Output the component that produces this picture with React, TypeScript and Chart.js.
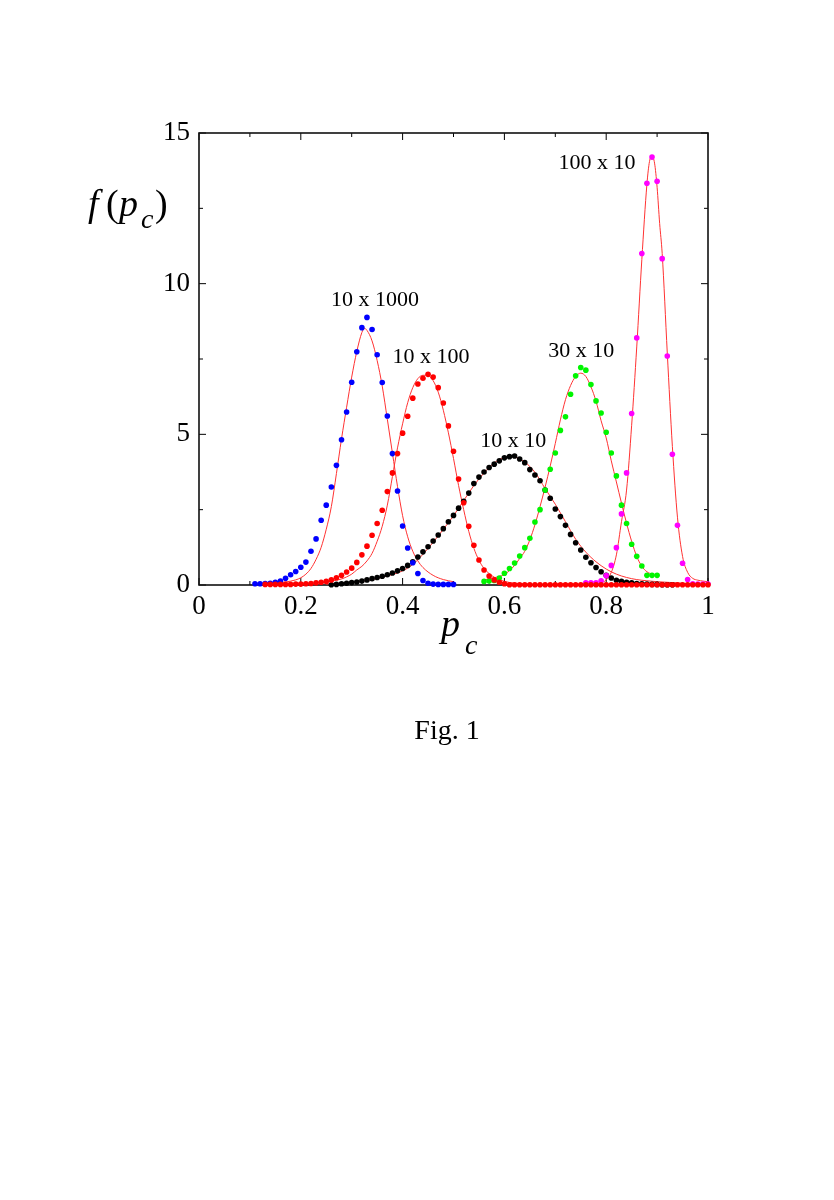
import React, { useEffect, useRef } from "react";
import { Chart, registerables } from "chart.js";

Chart.register(...registerables);

// ---------- data (x grid step 0.01) ----------
const STEP = 0.01;

const blueStart = 0.11; // 10 x 1000
const blueValues = [
  0.04, 0.04, 0.05, 0.06, 0.09, 0.13, 0.22, 0.34, 0.45, 0.59,
  0.76, 1.12, 1.53, 2.15, 2.65, 3.25, 3.97, 4.82, 5.74, 6.73,
  7.74, 8.54, 8.88, 8.48, 7.64, 6.72, 5.61, 4.36, 3.12, 1.96,
  1.23, 0.74, 0.38, 0.15, 0.06, 0.03, 0.02, 0.02, 0.02, 0.02,
];

const redStart = 0.13; // 10 x 100
const redValues = [
  0.02, 0.02, 0.02, 0.02, 0.02, 0.02, 0.03, 0.03, 0.04, 0.05,
  0.07, 0.09, 0.12, 0.17, 0.24, 0.32, 0.43, 0.56, 0.75, 1.0,
  1.29, 1.65, 2.04, 2.48, 3.1, 3.72, 4.36, 5.04, 5.6, 6.2,
  6.67, 6.86, 6.99, 6.9, 6.55, 6.04, 5.28, 4.44, 3.52, 2.73,
  1.95, 1.32, 0.83, 0.5, 0.3, 0.17, 0.09, 0.04, 0.01, 0.01,
  0.01, 0.01, 0.01, 0.01, 0.01, 0.01, 0.01, 0.01, 0.01, 0.01,
  0.01, 0.01, 0.01, 0.01, 0.01, 0.01, 0.01, 0.01, 0.01, 0.01,
  0.01, 0.01, 0.01, 0.01, 0.01, 0.01, 0.01, 0.01, 0.01, 0.01,
  0.01, 0.01, 0.01, 0.01, 0.01, 0.01, 0.01, 0.01,
];

const blackStart = 0.26; // 10 x 10
const blackValues = [
  0.01, 0.02, 0.04, 0.06, 0.08, 0.1, 0.13, 0.17, 0.21, 0.25,
  0.29, 0.34, 0.4, 0.47, 0.55, 0.65, 0.77, 0.93, 1.1, 1.27,
  1.46, 1.66, 1.87, 2.1, 2.31, 2.55, 2.78, 3.05, 3.37, 3.58,
  3.75, 3.9, 4.01, 4.12, 4.22, 4.26, 4.28, 4.18, 4.06, 3.83,
  3.65, 3.46, 3.15, 2.88, 2.52, 2.27, 1.98, 1.68, 1.4, 1.16,
  0.92, 0.74, 0.58, 0.44, 0.32, 0.23, 0.16, 0.12, 0.09, 0.07,
  0.05, 0.04, 0.03, 0.02, 0.02, 0.01, 0.01, 0.01,
];

const greenStart = 0.56; // 30 x 10
const greenValues = [
  0.12, 0.13, 0.15, 0.23, 0.39, 0.55, 0.73, 0.96, 1.24, 1.55,
  2.09, 2.5, 3.15, 3.84, 4.38, 5.13, 5.58, 6.33, 6.94, 7.22,
  7.13, 6.65, 6.11, 5.71, 5.07, 4.38, 3.62, 2.65, 2.04, 1.35,
  0.95, 0.63, 0.32, 0.32, 0.32,
];

const magentaStart = 0.76; // 100 x 10
const magentaValues = [
  0.07, 0.07, 0.07, 0.14, 0.31, 0.65, 1.24, 2.36, 3.72, 5.69,
  8.2, 11.0, 13.33, 14.2, 13.4, 10.83, 7.6, 4.34, 1.98, 0.72,
  0.18, 0.04, 0.03, 0.03, 0.03,
];

// ---------- fitted curves ----------
const fit1X = [0.11, 0.14, 0.17, 0.19, 0.2, 0.21, 0.22, 0.23, 0.24, 0.25, 0.26, 0.27, 0.28, 0.29, 0.3, 0.31, 0.32, 0.325, 0.33, 0.34, 0.35, 0.36, 0.37, 0.38, 0.39, 0.4, 0.41, 0.42, 0.43, 0.44, 0.46, 0.48, 0.5];
const fit1Y = [0.05, 0.06, 0.1, 0.17, 0.24, 0.36, 0.55, 0.85, 1.25, 1.85, 2.6, 3.7, 4.85, 5.9, 6.9, 7.75, 8.38, 8.52, 8.45, 8.1, 7.45, 6.6, 5.5, 4.38, 3.27, 2.3, 1.6, 1.12, 0.8, 0.58, 0.32, 0.18, 0.11];

const fit2X = [0.15, 0.2, 0.23, 0.26, 0.28, 0.29, 0.3, 0.31, 0.32, 0.33, 0.34, 0.35, 0.36, 0.37, 0.38, 0.39, 0.4, 0.41, 0.42, 0.43, 0.44, 0.45, 0.46, 0.47, 0.48, 0.49, 0.5, 0.51, 0.52, 0.53, 0.54, 0.55, 0.56, 0.57, 0.58, 0.59, 0.6, 0.62, 0.65];
const fit2Y = [0.02, 0.04, 0.07, 0.13, 0.2, 0.27, 0.36, 0.5, 0.62, 0.8, 1.05, 1.45, 1.95, 2.65, 3.6, 4.55, 5.35, 6.05, 6.55, 6.85, 6.96, 6.95, 6.78, 6.4, 5.8, 5.05, 4.2, 3.3, 2.5, 1.78, 1.22, 0.82, 0.55, 0.38, 0.26, 0.18, 0.12, 0.06, 0.03];

const fit3X = [0.25, 0.28, 0.31, 0.34, 0.37, 0.4, 0.42, 0.44, 0.46, 0.48, 0.5, 0.52, 0.54, 0.56, 0.58, 0.6, 0.61, 0.62, 0.64, 0.66, 0.68, 0.7, 0.72, 0.74, 0.76, 0.78, 0.8, 0.82, 0.84, 0.86, 0.88, 0.9, 0.93, 0.96];
const fit3Y = [0.03, 0.06, 0.1, 0.18, 0.3, 0.47, 0.68, 1.02, 1.42, 1.85, 2.3, 2.8, 3.3, 3.72, 4.05, 4.24, 4.27, 4.25, 4.08, 3.74, 3.2, 2.68, 2.1, 1.52, 1.09, 0.77, 0.53, 0.36, 0.25, 0.18, 0.14, 0.11, 0.08, 0.05];

const fit4X = [0.56, 0.58, 0.6, 0.61, 0.62, 0.63, 0.64, 0.65, 0.66, 0.67, 0.68, 0.69, 0.7, 0.71, 0.72, 0.73, 0.74, 0.75, 0.76, 0.77, 0.78, 0.79, 0.8, 0.81, 0.82, 0.83, 0.84, 0.85, 0.86, 0.87, 0.88, 0.89, 0.9];
const fit4Y = [0.17, 0.24, 0.35, 0.48, 0.65, 0.88, 1.12, 1.5, 2.0, 2.6, 3.25, 3.95, 4.7, 5.48, 6.15, 6.62, 6.92, 7.03, 6.92, 6.58, 6.1, 5.45, 4.88, 4.12, 3.42, 2.72, 2.05, 1.45, 0.95, 0.62, 0.44, 0.36, 0.31];

const fit5X = [0.76, 0.78, 0.79, 0.8, 0.81, 0.82, 0.83, 0.84, 0.85, 0.86, 0.87, 0.88, 0.885, 0.89, 0.895, 0.9, 0.905, 0.91, 0.92, 0.93, 0.94, 0.95, 0.96, 0.97, 0.98, 0.99, 1.0];
const fit5Y = [0.02, 0.04, 0.07, 0.17, 0.42, 1.0, 2.1, 3.15, 5.3, 7.9, 10.8, 13.3, 14.05, 14.22, 14.0, 13.2, 12.0, 11.0, 7.7, 4.6, 2.25, 0.95, 0.42, 0.22, 0.16, 0.13, 0.11];

const X_TICKS = [0, 0.2, 0.4, 0.6, 0.8, 1];
const Y_TICKS = [0, 5, 10, 15];

const LABELS = ["10 x 1000", "10 x 100", "10 x 10", "30 x 10", "100 x 10"];
const LABEL_X = [0.346, 0.456, 0.6175, 0.751, 0.782];
const LABEL_Y = [9.26, 7.36, 4.59, 7.58, 13.82];

// ---------- helpers ----------
function onGrid(start: number, values: number[]) {
  return values.map((v, i) => ({ x: Math.round((start + i * STEP) * 1000) / 1000, y: v }));
}
function zip(xs: number[], ys: number[]) {
  return xs.map((x, i) => ({ x, y: ys[i] }));
}

const SERIF = '"Liberation Serif", "Times New Roman", serif';

const decorPlugin = {
  id: "decor",
  beforeDatasetsDraw(chart: any) {
    const { ctx, chartArea: a, scales } = chart;
    const xs = scales.x;
    const ys = scales.y;
    ctx.save();
    ctx.strokeStyle = "#000";
    ctx.lineWidth = 1;
    ctx.beginPath();
    for (let i = 0; i <= 10; i++) {
      const px = xs.getPixelForValue(i / 10);
      const len = i % 2 === 0 ? 7 : 4;
      ctx.moveTo(px, a.bottom);
      ctx.lineTo(px, a.bottom - len);
      ctx.moveTo(px, a.top);
      ctx.lineTo(px, a.top + len);
    }
    for (let i = 0; i <= 6; i++) {
      const py = ys.getPixelForValue(i * 2.5);
      const len = i % 2 === 0 ? 7 : 4;
      ctx.moveTo(a.left, py);
      ctx.lineTo(a.left + len, py);
      ctx.moveTo(a.right, py);
      ctx.lineTo(a.right - len, py);
    }
    ctx.stroke();
    ctx.lineWidth = 1.6;
    ctx.strokeStyle = "#111";
    ctx.strokeRect(a.left, a.top, a.right - a.left, a.bottom - a.top);
    ctx.restore();
  },
  afterDraw(chart: any) {
    const { ctx, scales } = chart;
    const xs = scales.x;
    const ys = scales.y;
    ctx.save();
    ctx.fillStyle = "#000";
    ctx.textBaseline = "alphabetic";
    // curve labels
    ctx.font = `22px ${SERIF}`;
    ctx.textAlign = "center";
    LABELS.forEach((t, i) => {
      ctx.fillText(t, xs.getPixelForValue(LABEL_X[i]), ys.getPixelForValue(LABEL_Y[i]));
    });
    // y title f(p_c)
    ctx.textAlign = "left";
    ctx.font = `italic 38px ${SERIF}`;
    ctx.fillText("f", 88, 216);
    ctx.font = `38px ${SERIF}`;
    ctx.fillText("(", 106, 216);
    ctx.font = `italic 38px ${SERIF}`;
    ctx.fillText("p", 119, 216);
    ctx.font = `italic 28px ${SERIF}`;
    ctx.fillText("c", 141, 228);
    ctx.font = `38px ${SERIF}`;
    ctx.fillText(")", 155, 216);
    // x title p_c
    ctx.font = `italic 38px ${SERIF}`;
    ctx.fillText("p", 441, 636);
    ctx.font = `italic 28px ${SERIF}`;
    ctx.fillText("c", 465, 654);
    ctx.restore();
  },
};

export default function App() {
  const canvasRef = useRef<HTMLCanvasElement | null>(null);

  useEffect(() => {
    const canvas = canvasRef.current;
    if (!canvas) return;
    const dot = (label: string, color: string, data: any[]) => ({
      type: "scatter" as const,
      label,
      data,
      showLine: false,
      pointRadius: 2.8,
      pointHoverRadius: 2.8,
      pointBorderWidth: 0,
      pointBackgroundColor: color,
      pointBorderColor: color,
      clip: 6,
    });
    const fit = (label: string, data: any[]) => ({
      type: "scatter" as const,
      label,
      data,
      showLine: true,
      pointRadius: 0,
      borderColor: "rgb(255,50,50)",
      borderWidth: 1,
      cubicInterpolationMode: "monotone" as const,
      fill: false,
      clip: 6,
    });

    const chart = new Chart(canvas, {
      type: "scatter",
      data: {
        datasets: [
          dot("10 x 100", "rgb(255,0,0)", onGrid(redStart, redValues)),
          dot("100 x 10", "rgb(255,0,255)", onGrid(magentaStart, magentaValues)),
          dot("10 x 1000", "rgb(0,0,255)", onGrid(blueStart, blueValues)),
          dot("30 x 10", "rgb(0,245,0)", onGrid(greenStart, greenValues)),
          dot("10 x 10", "rgb(0,0,0)", onGrid(blackStart, blackValues)),
          fit("fit 10 x 1000", zip(fit1X, fit1Y)),
          fit("fit 10 x 100", zip(fit2X, fit2Y)),
          fit("fit 10 x 10", zip(fit3X, fit3Y)),
          fit("fit 30 x 10", zip(fit4X, fit4Y)),
          fit("fit 100 x 10", zip(fit5X, fit5Y)),
        ],
      },
      options: {
        responsive: false,
        animation: false,
        devicePixelRatio: 1,
        layout: { padding: { left: 139, right: 126, top: 133, bottom: 145 } },
        plugins: {
          legend: { display: false },
          tooltip: { enabled: false },
          title: { display: false },
        },
        scales: {
          x: {
            type: "linear",
            min: 0,
            max: 1,
            afterFit: (s: any) => {
              s.height = 50;
            },
            afterBuildTicks: (s: any) => {
              s.ticks = X_TICKS.map((v) => ({ value: v }));
            },
            grid: { display: false, drawTicks: false },
            border: { display: false },
            ticks: {
              padding: 6,
              color: "#000",
              font: { family: SERIF, size: 27 },
              maxRotation: 0,
              callback: (v: any) => String(Math.round(Number(v) * 10) / 10),
            },
          },
          y: {
            type: "linear",
            min: 0,
            max: 15,
            afterFit: (s: any) => {
              s.width = 60;
            },
            afterBuildTicks: (s: any) => {
              s.ticks = Y_TICKS.map((v) => ({ value: v }));
            },
            grid: { display: false, drawTicks: false },
            border: { display: false },
            ticks: {
              padding: 9,
              color: "#000",
              font: { family: SERIF, size: 27 },
              callback: (v: any) => String(v),
            },
          },
        },
      },
      plugins: [decorPlugin],
    });
    return () => chart.destroy();
  }, []);

  return (
    <div style={{ position: "absolute", left: 0, top: 0, width: 834, height: 1200, background: "#fff" }}>
      <canvas ref={canvasRef} width={834} height={780} style={{ display: "block", position: "absolute", left: 0, top: 0 }} />
      <div
        style={{
          position: "absolute",
          left: 347,
          top: 716,
          width: 200,
          textAlign: "center",
          fontFamily: SERIF,
          fontSize: 28,
          lineHeight: "28px",
          color: "#000",
        }}
      >
        Fig. 1
      </div>
    </div>
  );
}
